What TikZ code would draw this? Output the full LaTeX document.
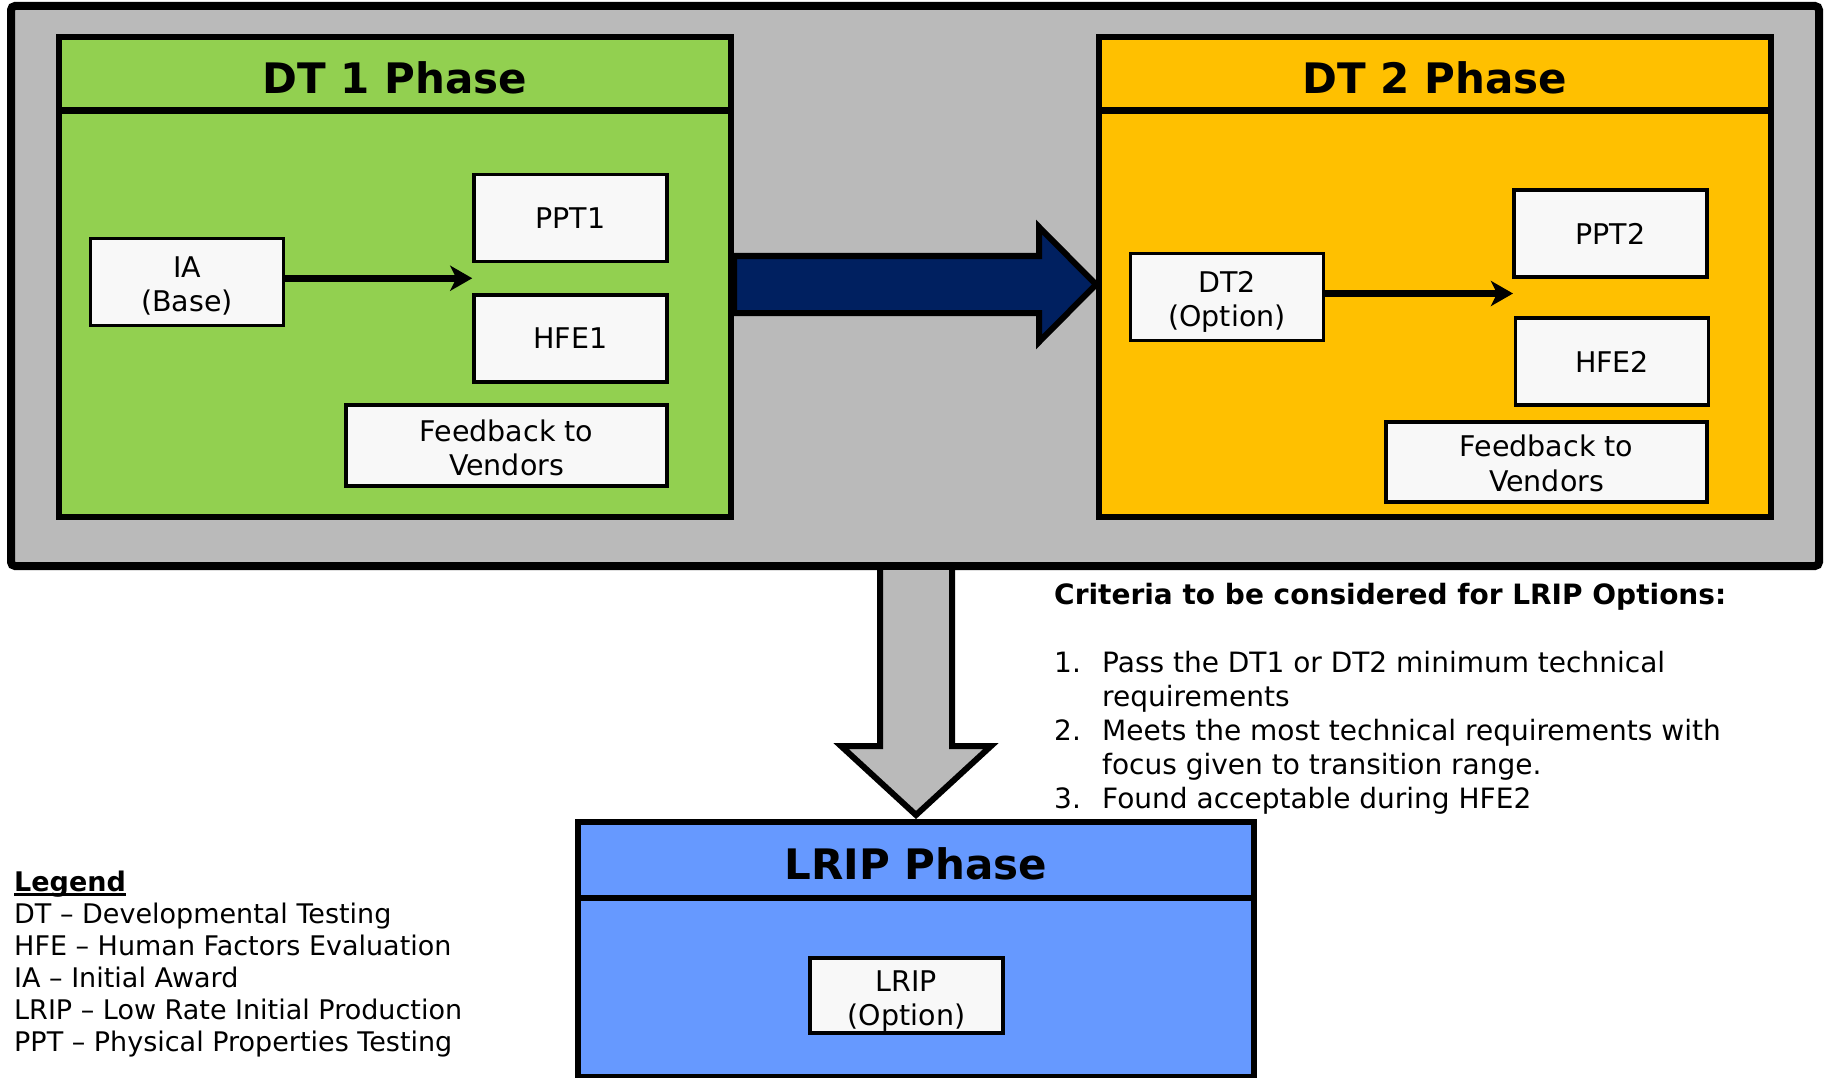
\documentclass[tikz,border=0pt]{standalone}
\usepackage{fontspec}
\setmainfont{DejaVu Sans}
\usetikzlibrary{arrows.meta,calc}
\definecolor{bggray}{RGB}{186,186,186}
\definecolor{dtgreen}{RGB}{146,208,80}
\definecolor{dtorange}{RGB}{255,192,0}
\definecolor{navyarr}{RGB}{0,32,96}
\definecolor{lripblue}{RGB}{102,153,255}
\definecolor{boxfill}{RGB}{248,248,248}
\newcommand\bxfont{\fontsize{28.5}{34.5}\selectfont}
\newcommand\ttlfont{\fontsize{42}{48}\selectfont\bfseries}
\newcommand\critfont{\fontsize{28}{34}\selectfont}
\newcommand\legfont{\fontsize{27}{32}\selectfont}
\newcommand\tpstrut[1]{\rule{0pt}{#1pt}}
\begin{document}
\begin{tikzpicture}[x=1pt,y=-1pt,
  outerbox/.style={draw=black, fill=bggray, line width=8pt, rounded corners=4pt, inner sep=0pt},
  phase/.style={draw=black, line width=6pt, inner sep=0pt},
  hdrline/.style={line width=6.5pt},
  ttl/.style={font=\ttlfont, inner sep=0pt},
  smallbox/.style={draw=black, fill=boxfill, line width=3.5pt, inner sep=0pt, align=center,
    font=\bxfont, minimum width=193pt, minimum height=87pt},
  conn/.style={line width=7pt, -{Stealth[length=22pt,width=25pt,inset=6pt]}},
  bigarrow/.style={draw=black, line width=6pt, line join=miter},
]
\useasboundingbox (0,0) rectangle (1826,1078);

% outer gray panel
\node[outerbox, minimum width=1808pt, minimum height=560pt] (outer) at (915,286) {};

% DT1 phase
\node[phase, fill=dtgreen, minimum width=672pt, minimum height=479.5pt] (dt1) at (395,277.25) {};
\draw[hdrline] ($(dt1.north west)+(0,76)$) -- ($(dt1.north east)+(0,76)$);
\node[ttl] (dt1t) at ($(dt1.north)+(0,43)$) {DT 1 Phase};
\node[smallbox] (ia) at (187,282) {\tpstrut{28.8}IA\\(Base)};
\node[smallbox] (ppt1) at (570.5,218) {PPT1};
\node[smallbox] (hfe1) at (570.5,338.5) {HFE1};
\node[smallbox, minimum width=321pt, minimum height=81pt] (fb1) at (506.5,445.5) {\tpstrut{26.4}Feedback to\\Vendors};
\coordinate (t1) at ($(ppt1.south west)!0.5!(hfe1.north west)$);
\draw[conn] (ia.east |- t1) -- (t1);

% DT2 phase
\node[phase, fill=dtorange, minimum width=672pt, minimum height=479.5pt] (dt2) at (1435,277.25) {};
\draw[hdrline] ($(dt2.north west)+(0,76)$) -- ($(dt2.north east)+(0,76)$);
\node[ttl] (dt2t) at ($(dt2.north)+(0,43)$) {DT 2 Phase};
\node[smallbox] (dt2opt) at (1227,297) {\tpstrut{31.3}DT2\\(Option)};
\node[smallbox] (ppt2) at (1610.5,233.5) {PPT2};
\node[smallbox] (hfe2) at (1612,361.5) {HFE2};
\node[smallbox, minimum width=321pt, minimum height=80pt] (fb2) at (1546.5,462) {\tpstrut{24}Feedback to\\Vendors};
\coordinate (t2) at ($(ppt2.south west)!0.5!(hfe2.north west)+(0,-4)$);
\draw[conn] (dt2opt.east |- t2) -- (t2);

% navy block arrow DT1 -> DT2
\draw[bigarrow, fill=navyarr]
  ($(dt1.east)+(0,-21.25)$) -- ($(dt2.west)+(-57,-21.25)$) -- ($(dt2.west)+(-57,-50.25)$)
  -- ($(dt2.west)+(0,7.25)$) -- ($(dt2.west)+(-57,64.75)$) -- ($(dt2.west)+(-57,35.75)$)
  -- ($(dt1.east)+(0,35.75)$) -- cycle;

% LRIP phase
\node[phase, fill=lripblue, minimum width=676pt, minimum height=255pt] (lrip) at (916,949.5) {};
\draw[hdrline] ($(lrip.north west)+(0,79)$) -- ($(lrip.north east)+(0,79)$);
\node[ttl] (lript) at ($(lrip.north)+(0,44.5)$) {LRIP Phase};
\node[smallbox, minimum height=75pt] (lripopt) at (906.5,995.5) {\tpstrut{32.4}LRIP\\(Option)};

% gray block arrow down
\filldraw[bigarrow, fill=bggray]
  ($(lrip.north |- outer.south)+(-36,0)$) -- ($(lrip.north)+(-36,-73)$) -- ($(lrip.north)+(-75,-73)$)
  -- ($(lrip.north)+(0,-4)$) -- ($(lrip.north)+(75,-73)$) -- ($(lrip.north)+(36,-73)$)
  -- ($(lrip.north |- outer.south)+(36,0)$);

% criteria
\node[anchor=base west, inner sep=0pt, font=\critfont] (crit) at (1054,604) {%
\begin{tabular}[t]{@{}p{48pt}@{}l@{}}
\multicolumn{2}{@{}l@{}}{\bfseries Criteria to be considered for LRIP Options:}\\
 & \\
1. & Pass the DT1 or DT2 minimum technical\\
 & requirements\\
2. & Meets the most technical requirements with\\
 & focus given to transition range.\\
3. & Found acceptable during HFE2
\end{tabular}};

% legend
\node[anchor=base west, inner sep=0pt, font=\legfont\bfseries] (leg) at (14,891) {Legend};
\draw[line width=3pt] ([yshift=-3pt]leg.base west) -- ([yshift=-3pt]leg.base east);
\node[anchor=base west, inner sep=0pt, font=\legfont] (legtxt) at (14,923) {%
\begin{tabular}[t]{@{}l@{}}
DT – Developmental Testing\\
HFE – Human Factors Evaluation\\
IA – Initial Award\\
LRIP – Low Rate Initial Production\\
PPT – Physical Properties Testing
\end{tabular}};
\end{tikzpicture}
\end{document}
